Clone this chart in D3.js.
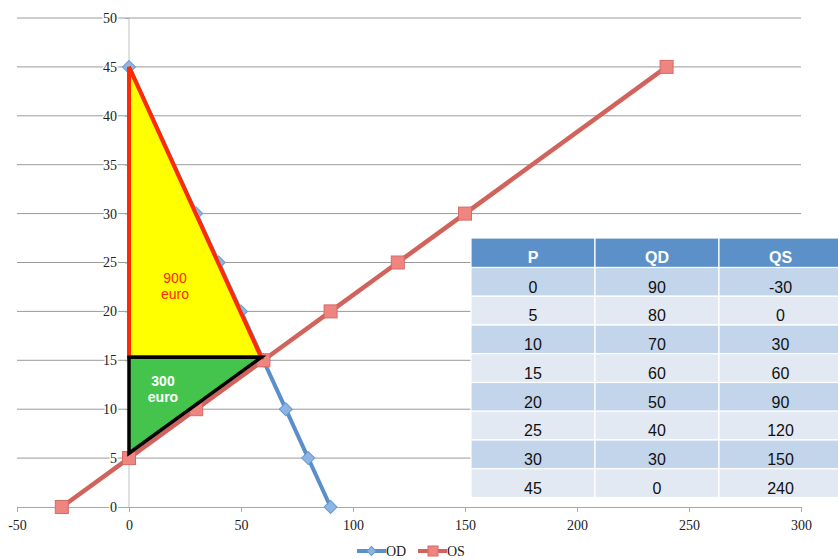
<!DOCTYPE html>
<html>
<head>
<meta charset="utf-8">
<script src="https://cdn.jsdelivr.net/npm/d3@7"></script>
<style>
  body { margin: 0; background: #fff; }
  svg { display: block; }
  .serif { font-family: "Liberation Serif", "DejaVu Serif", serif; }
  .sans { font-family: "Liberation Sans", Arial, sans-serif; }
</style>
</head>
<body>
<div id="chart"></div>
<script>
// Price levels and quantities (demand / supply)
const prices = [0, 5, 10, 15, 20, 25, 30, 45];
const qd = [90, 80, 70, 60, 50, 40, 30, 0];
const qs = [-30, 0, 30, 60, 90, 120, 150, 240];

const xTicks = [-50, 0, 50, 100, 150, 200, 250, 300];
const yTicks = [0, 5, 10, 15, 20, 25, 30, 35, 40, 45, 50];

// Surplus triangles as [Q, P]
const consumerTri = [[0, 45], [0, 15.3], [59, 15.3]];
const producerTri = [[0, 15.3], [59, 15.3], [0, 5.5]];

const tableHead = ["P", "QD", "QS"];

const colors = {
    od: "#5b8fcb",
    odFill: "#8db4e3",
    os: "#d2635c",
    osFill: "#ef8580",
    grid: "#9a9a9a",
    yellow: "#ffff00",
    green: "#44c44c",
    red: "#ff2a00"
};

const W = 838, H = 559;
const svg = d3.select("#chart").append("svg")
    .attr("width", W)
    .attr("height", H);

const x = d3.scaleLinear().domain([-50, 300]).range([17, 801]);
const y = d3.scaleLinear().domain([0, 50]).range([507, 18]);

// horizontal gridlines
svg.append("g").selectAll("line")
    .data(yTicks.filter(d => d > 0))
    .enter().append("line")
    .attr("x1", x(-50)).attr("x2", x(300))
    .attr("y1", d => y(d)).attr("y2", d => y(d))
    .attr("stroke", colors.grid).attr("stroke-width", 1);

// vertical axis at x = 0
svg.append("line")
    .attr("x1", x(0)).attr("x2", x(0))
    .attr("y1", y(50)).attr("y2", y(0))
    .attr("stroke", "#c0c0c0").attr("stroke-width", 1);

// x axis
const xAxis = d3.axisBottom(x).tickValues(xTicks).tickFormat(d => String(d))
    .tickSize(5).tickSizeOuter(0).tickPadding(8);
const gx = svg.append("g")
    .attr("transform", `translate(0,${y(0)})`)
    .call(xAxis)
    .attr("font-family", null).attr("font-size", null);
gx.select(".domain").attr("stroke", "#a8a8a8");
gx.selectAll(".tick line").attr("stroke", "#a8a8a8");
gx.selectAll("text").attr("class", "serif")
    .style("font-size", "14px").attr("fill", "#222");

// y axis labels, sitting over the gridlines next to the x=0 axis
const yAxis = d3.axisLeft(y).tickValues(yTicks).tickFormat(d => String(d))
    .tickSize(4).tickPadding(8);
const gy = svg.append("g")
    .attr("transform", `translate(${x(0)},0)`)
    .call(yAxis)
    .attr("font-family", null).attr("font-size", null);
gy.select(".domain").remove();
gy.selectAll(".tick line").attr("stroke", "#a8a8a8");
gy.selectAll("text").attr("class", "serif")
    .style("font-size", "14px").attr("fill", "#222")
    .attr("stroke", "#fff").attr("stroke-width", 3)
    .attr("paint-order", "stroke");

// series
const odData = prices.map((p, i) => ({ q: qd[i], p: p }));
const osData = prices.map((p, i) => ({ q: qs[i], p: p }));

const line = d3.line().x(d => x(d.q)).y(d => y(d.p));

svg.append("path").datum(odData)
    .attr("d", line).attr("fill", "none")
    .attr("stroke", colors.od).attr("stroke-width", 4);
svg.append("path").datum(osData)
    .attr("d", line).attr("fill", "none")
    .attr("stroke", colors.os).attr("stroke-width", 4.5);

// square rotated 45 degrees, like the spreadsheet diamond
const diamond = d3.symbol().type(d3.symbolSquare).size(85);
svg.append("g").selectAll("path")
    .data(odData)
    .enter().append("path")
    .attr("d", diamond)
    .attr("transform", d => `translate(${x(d.q)},${y(d.p)}) rotate(45)`)
    .attr("fill", colors.odFill)
    .attr("stroke", "#6a9bd4").attr("stroke-width", 1);

svg.append("g").selectAll("rect")
    .data(osData)
    .enter().append("rect")
    .attr("x", d => x(d.q) - 6.5).attr("y", d => y(d.p) - 6.5)
    .attr("width", 13).attr("height", 13)
    .attr("fill", colors.osFill)
    .attr("stroke", "#d66a64").attr("stroke-width", 1);

// surplus triangles drawn on top
const poly = pts => pts.map(d => [x(d[0]), y(d[1])].join(",")).join(" ");

svg.append("polygon")
    .attr("points", poly(consumerTri))
    .attr("fill", colors.yellow)
    .attr("stroke", colors.red).attr("stroke-width", 4)
    .attr("stroke-linejoin", "miter");
svg.append("polygon")
    .attr("points", poly(producerTri))
    .attr("fill", colors.green)
    .attr("stroke", "#000").attr("stroke-width", 3.5)
    .attr("stroke-linejoin", "miter");

svg.append("text")
    .attr("class", "sans")
    .attr("x", 175).attr("y", 283)
    .attr("text-anchor", "middle")
    .style("font-size", "14px").attr("fill", colors.red)
    .selectAll("tspan").data(["900", "euro"]).enter().append("tspan")
    .attr("x", 175).attr("dy", (d, i) => i ? 16 : 0).text(d => d);

svg.append("text")
    .attr("class", "sans")
    .attr("x", 163).attr("y", 386)
    .attr("text-anchor", "middle")
    .style("font-size", "14px").attr("font-weight", "bold").attr("fill", "#fff")
    .selectAll("tspan").data(["300", "euro"]).enter().append("tspan")
    .attr("x", 163).attr("dy", (d, i) => i ? 16 : 0).text(d => d);

// data table
const tX = 471, tY = 238, colW = [124, 124, 123], headH = 29.5, rowH = 28.75;
const colX = [tX, tX + colW[0], tX + colW[0] + colW[1]];
const table = svg.append("g");

tableHead.forEach((h, j) => {
    table.append("rect")
        .attr("x", colX[j]).attr("y", tY)
        .attr("width", colW[j]).attr("height", headH)
        .attr("fill", "#5b91c8").attr("stroke", "#fff").attr("stroke-width", 1.2);
    table.append("text")
        .attr("class", "sans")
        .attr("x", colX[j] + colW[j] / 2).attr("y", tY + 25)
        .attr("text-anchor", "middle")
        .style("font-size", "16px").attr("font-weight", "bold").attr("fill", "#fff")
        .text(h);
});

prices.forEach((p, i) => {
    const vals = [p, qd[i], qs[i]];
    const ry = tY + headH + i * rowH;
    vals.forEach((v, j) => {
        table.append("rect")
            .attr("x", colX[j]).attr("y", ry)
            .attr("width", colW[j]).attr("height", rowH)
            .attr("fill", i % 2 === 0 ? "#c3d5ea" : "#e2e9f2")
            .attr("stroke", "#fff").attr("stroke-width", 1.2);
        table.append("text")
            .attr("class", "sans")
            .attr("x", colX[j] + colW[j] / 2).attr("y", ry + 25)
            .attr("text-anchor", "middle")
            .style("font-size", "16px").attr("fill", "#111")
            .text(v);
    });
});

// legend
const legend = svg.append("g").attr("transform", "translate(0,551)");
const legItems = [
    { name: "OD", x: 357, color: colors.od, fill: colors.odFill, shape: "diamond" },
    { name: "OS", x: 418, color: colors.os, fill: colors.osFill, shape: "square" }
];
legItems.forEach(it => {
    legend.append("line")
        .attr("x1", it.x).attr("x2", it.x + 29)
        .attr("stroke", it.color).attr("stroke-width", 4);
    if (it.shape === "diamond") {
        legend.append("path")
            .attr("d", d3.symbol().type(d3.symbolSquare).size(40)())
            .attr("transform", `translate(${it.x + 14.5},0) rotate(45)`)
            .attr("fill", it.fill).attr("stroke", "#6a9bd4");
    } else {
        legend.append("rect")
            .attr("x", it.x + 10).attr("y", -5).attr("width", 10).attr("height", 10)
            .attr("fill", it.fill).attr("stroke", "#d66a64");
    }
    legend.append("text")
        .attr("class", "serif")
        .attr("x", it.x + 29).attr("y", 5)
        .style("font-size", "14px").attr("fill", "#222")
        .text(it.name);
});
</script>
</body>
</html>
